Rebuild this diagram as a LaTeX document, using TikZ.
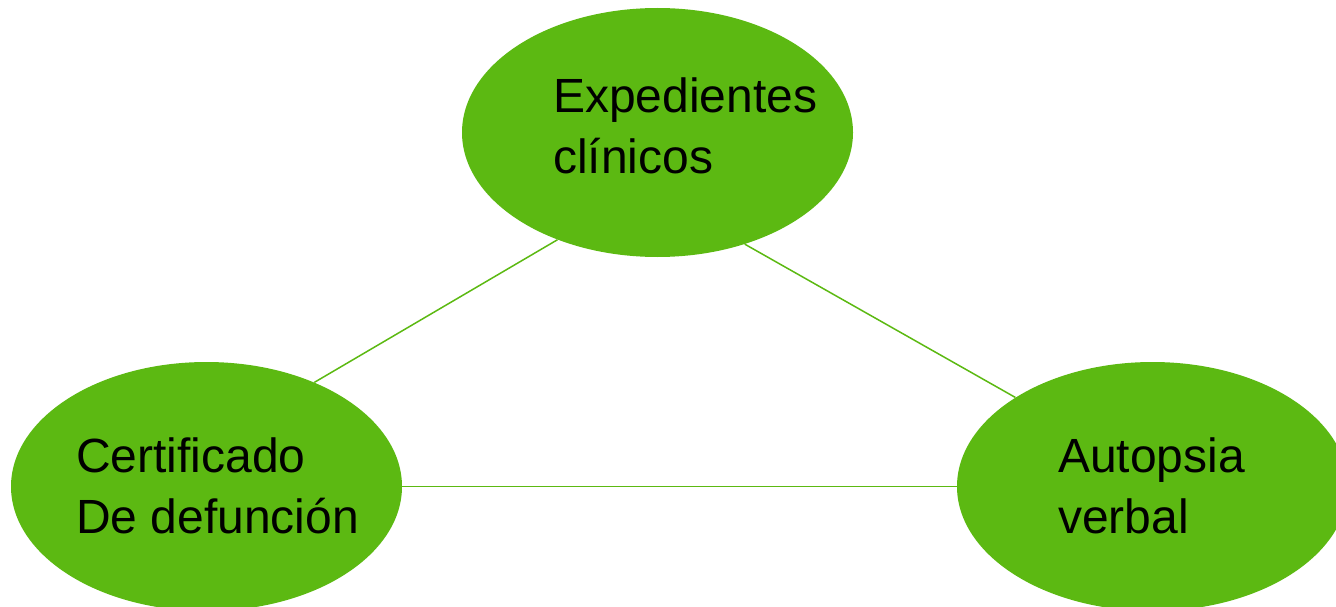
\documentclass[tikz,border=0pt]{standalone}
\usepackage{fontspec}
\setmainfont{Liberation Sans}
\usetikzlibrary{shapes.geometric}
\definecolor{leaf}{RGB}{92,185,18}
\begin{document}
\begin{tikzpicture}[x=1pt,y=-1pt,
  blob/.style={ellipse,fill=leaf,draw=none,minimum width=391pt,minimum height=249pt,inner sep=0pt},
  lbl/.style={anchor=base west,align=left,inner sep=0pt,font=\fontsize{48}{60.5}\selectfont},
  link/.style={draw=leaf,line width=1.5pt}]
\useasboundingbox (0,0) rectangle (1336,607);
\node[blob] (top) at (657.5,132.5) {};
\node[blob] (left) at (206.5,486.5) {};
\node[blob] (right) at (1152.5,486.5) {};
\node[lbl] (ttop) at (553,173) {Expedientes\\clínicos};
\node[lbl] (tleft) at (76,533) {Certificado\\De defunción};
\node[lbl] (tright) at (1058,533) {Autopsia\\verbal};
\draw[link] (top.227.7) -- (left.44);
\draw[link] (top.308.7) -- (right.147.2);
\draw[link] (left.east) -- (right.west);
\end{tikzpicture}
\end{document}
